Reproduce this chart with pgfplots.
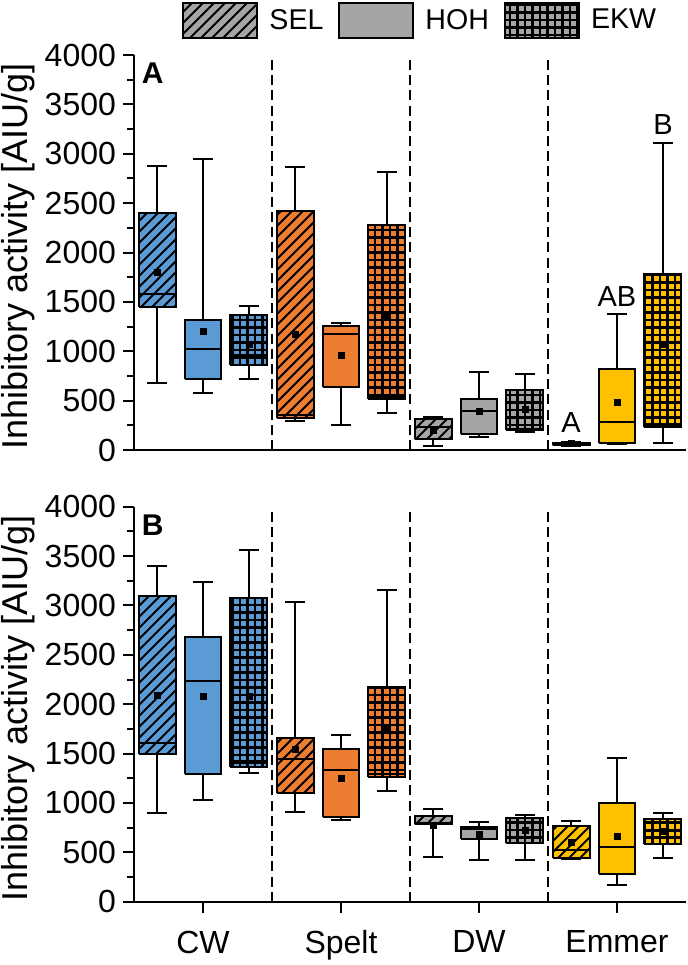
\documentclass[border=0pt]{standalone}
\usepackage{pgfplots}
\pgfplotsset{compat=1.18}
\usetikzlibrary{patterns}
\usepackage{fontspec}
\setmainfont{Liberation Sans}
\definecolor{cblue}{HTML}{5B9BD5}
\definecolor{corange}{HTML}{ED7D31}
\definecolor{cgray}{HTML}{A5A5A5}
\definecolor{cyellow}{HTML}{FFC000}
\pgfdeclarepatternformonly{mylines}{\pgfqpoint{-1pt}{-1pt}}{\pgfqpoint{6.5pt}{6.5pt}}{\pgfqpoint{5.5pt}{5.5pt}}{%
  \pgfsetlinewidth{0.9pt}%
  \pgfpathmoveto{\pgfqpoint{0pt}{0pt}}\pgfpathlineto{\pgfqpoint{5.6pt}{5.6pt}}%
  \pgfusepath{stroke}}
\pgfdeclarepatternformonly{mygrid}{\pgfqpoint{-1pt}{-1pt}}{\pgfqpoint{4.75pt}{4.75pt}}{\pgfqpoint{3.75pt}{3.75pt}}{%
  \pgfsetlinewidth{1.05pt}%
  \pgfpathmoveto{\pgfqpoint{0pt}{0pt}}\pgfpathlineto{\pgfqpoint{3.8pt}{0pt}}%
  \pgfpathmoveto{\pgfqpoint{0pt}{0pt}}\pgfpathlineto{\pgfqpoint{0pt}{3.8pt}}%
  \pgfusepath{stroke}}
\tikzset{
 pSEL/.style={postaction={pattern=mylines}},
 pHOH/.style={},
 pEKW/.style={postaction={pattern=mygrid}},
 sepline/.style={dash pattern=on 5pt off 2.6pt, line width=1pt, black},
}
% box: position, lower whisker, lower quartile, median, upper quartile, upper whisker, colour, pattern
\newcommand{\bx}[8]{%
 \pgfmathsetmacro{\xa}{#1-0.134}\pgfmathsetmacro{\xb}{#1+0.134}%
 \pgfmathsetmacro{\ca}{#1-0.07}\pgfmathsetmacro{\cb}{#1+0.07}%
 \edef\tmp{%
 \noexpand\addplot[forget plot, line width=1pt, black] coordinates {(#1,#3) (#1,#2)};
 \noexpand\addplot[forget plot, line width=1pt, black] coordinates {(\ca,#2) (\cb,#2)};
 \noexpand\addplot[forget plot, line width=1pt, black] coordinates {(#1,#5) (#1,#6)};
 \noexpand\addplot[forget plot, line width=1pt, black] coordinates {(\ca,#6) (\cb,#6)};
 \noexpand\addplot[forget plot, line width=1pt, draw=black, fill=#7, #8, line join=miter] coordinates {(\xa,#3) (\xb,#3) (\xb,#5) (\xa,#5) (\xa,#3)};
 \noexpand\addplot[forget plot, line width=1pt, black] coordinates {(\xa,#4) (\xb,#4)};
 }\tmp}
\pgfplotsset{
 myaxis/.style={
  scale only axis, width=276pt, height=197.5pt,
  xmin=0.5, xmax=4.5, ymin=0, ymax=4000,
  axis x line*=bottom, axis y line*=left,
  axis line style={line width=1pt, -},
  ytick={0,500,1000,1500,2000,2500,3000,3500,4000}, minor y tick num=1,
  scaled y ticks=false,
  tick align=outside, major tick length=5.5pt, minor tick length=3.5pt,
  tick style={line width=1pt, black},
  /pgf/number format/assume math mode=true,
  /pgf/number format/1000 sep={},
  tick label style={font=\fontsize{16}{19}\selectfont},
  ylabel={Inhibitory activity [AIU/g]},
  ylabel style={font=\fontsize{18}{21}\selectfont, at={(axis description cs:-0.21,0.49)}, anchor=center},
  clip=false,
 },
}
\begin{document}
\begin{tikzpicture}
% ---------------- Panel A ----------------
\begin{axis}[myaxis, at={(67pt,-225pt)}, anchor=south west, xtick=\empty,
  legend columns=3,
  legend style={at={(0.087,1.0873)}, anchor=west, draw=none, fill=none, inner sep=0pt,
    font=\fontsize{14.3}{17}\selectfont,
    nodes={inner sep=0pt},
    /tikz/every odd column/.append style={column sep=5.5pt},
    /tikz/every even column/.append style={column sep=7.5pt}},
  legend cell align=left]
\addlegendimage{legend image code/.code={\draw[line width=1pt, fill=cgray, pSEL] (0pt,-8.75pt) rectangle (37pt,8.75pt);}}
\addlegendentry{SEL}
\addlegendimage{legend image code/.code={\draw[line width=1pt, fill=cgray] (0pt,-8.75pt) rectangle (37pt,8.75pt);}}
\addlegendentry{HOH}
\addlegendimage{legend image code/.code={\draw[line width=1pt, fill=cgray, pEKW] (0pt,-8.75pt) rectangle (37pt,8.75pt);}}
\addlegendentry{EKW}
\draw[sepline] (axis cs:1.5,0) -- (axis cs:1.5,4000);
\draw[sepline] (axis cs:2.5,0) -- (axis cs:2.5,4000);
\draw[sepline] (axis cs:3.5,0) -- (axis cs:3.5,4000);
% CW
\bx{0.667}{675}{1451}{1580}{2397}{2876}{cblue}{pSEL}
\bx{1.000}{574}{716}{1019}{1316}{2943}{cblue}{pHOH}
\bx{1.333}{722}{861}{962}{1364}{1462}{cblue}{pEKW}
% Spelt
\bx{1.667}{294}{321}{351}{2420}{2869}{corange}{pSEL}
\bx{2.000}{253}{641}{1171}{1259}{1289}{corange}{pHOH}
\bx{2.333}{371}{513}{540}{2278}{2819}{corange}{pEKW}
% DW
\bx{2.667}{44}{108}{230}{311}{337}{cgray}{pSEL}
\bx{3.000}{129}{159}{395}{513}{787}{cgray}{pHOH}
\bx{3.333}{186}{203}{215}{608}{770}{cgray}{pEKW}
% Emmer
\bx{3.667}{45}{50}{60}{70}{80}{cyellow}{pSEL}
\bx{4.000}{60}{67}{287}{820}{1377}{cyellow}{pHOH}
\bx{4.333}{74}{236}{265}{1782}{3112}{cyellow}{pEKW}
\addplot[forget plot, only marks, mark=square*, mark size=1.5pt, black] coordinates {
 (0.667,1799) (1.000,1205) (1.333,1073)
 (1.667,1171) (2.000,962) (2.333,1350)
 (2.667,203) (3.000,388) (3.333,412)
 (3.667,62) (4.000,479) (4.333,1073)};
\node[font=\bfseries\fontsize{15}{18}\selectfont] at (rel axis cs:0.034,0.954) {A};
\node[anchor=base, font=\fontsize{14.5}{17}\selectfont] at (axis cs:3.667,175) {A};
\node[anchor=base, font=\fontsize{14.5}{17}\selectfont] at (axis cs:4.000,1452) {AB};
\node[anchor=base, font=\fontsize{14.5}{17}\selectfont] at (axis cs:4.333,3190) {B};
\end{axis}
% ---------------- Panel B ----------------
\begin{axis}[myaxis, at={(67pt,-450.85pt)}, anchor=south west,
  xtick={1,2,3,4}, xticklabels={CW,Spelt,DW,Emmer},
  xticklabel style={yshift=-5.5pt}]
\draw[sepline] (axis cs:1.5,0) -- (axis cs:1.5,4000);
\draw[sepline] (axis cs:2.5,0) -- (axis cs:2.5,4000);
\draw[sepline] (axis cs:3.5,0) -- (axis cs:3.5,4000);
% CW
\bx{0.667}{901}{1495}{1610}{3095}{3399}{cblue}{pSEL}
\bx{1.000}{1030}{1293}{2235}{2684}{3234}{cblue}{pHOH}
\bx{1.333}{1300}{1366}{1420}{3072}{3561}{cblue}{pEKW}
% Spelt
\bx{1.667}{905}{1104}{1445}{1661}{3031}{corange}{pSEL}
\bx{2.000}{827}{854}{1333}{1549}{1688}{corange}{pHOH}
\bx{2.333}{1124}{1266}{1293}{2170}{3153}{corange}{pEKW}
% DW
\bx{2.667}{449}{784}{800}{868}{939}{cgray}{pSEL}
\bx{3.000}{419}{632}{736}{760}{810}{cgray}{pHOH}
\bx{3.333}{419}{591}{800}{851}{878}{cgray}{pEKW}
% Emmer
\bx{3.667}{435}{439}{524}{767}{820}{cyellow}{pSEL}
\bx{4.000}{169}{277}{551}{1003}{1459}{cyellow}{pHOH}
\bx{4.333}{446}{581}{720}{841}{898}{cyellow}{pEKW}
\addplot[forget plot, only marks, mark=square*, mark size=1.5pt, black] coordinates {
 (0.667,2086) (1.000,2083) (1.333,2083)
 (1.667,1543) (2.000,1249) (2.333,1756)
 (2.667,777) (3.000,686) (3.333,719)
 (3.667,598) (4.000,665) (4.333,709)};
\node[font=\bfseries\fontsize{15}{18}\selectfont] at (rel axis cs:0.034,0.954) {B};
\end{axis}
\pgfresetboundingbox
\path[use as bounding box] (0pt,0pt) rectangle (344pt,-482.5pt);
\end{tikzpicture}
\end{document}
